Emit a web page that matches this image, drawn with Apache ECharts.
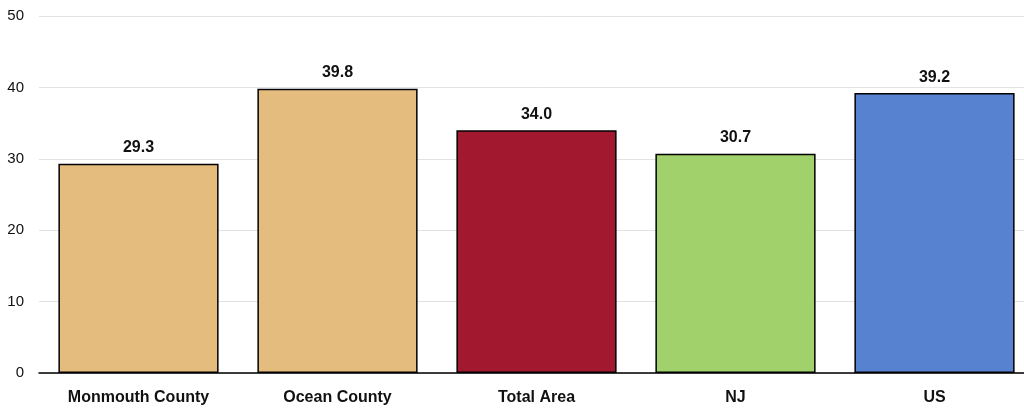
<!DOCTYPE html>
<html><head><meta charset="utf-8">
<script src="https://cdn.jsdelivr.net/npm/echarts@6/dist/echarts.min.js"></script>
<style>html,body{margin:0;padding:0;background:#fff;overflow:hidden;width:1024px;height:410px}#c{width:1034px;height:410px}</style>
</head><body><div id="c"></div>
<script>
const categories = ["Monmouth County", "Ocean County", "Total Area", "NJ", "US"];
const values = [29.3, 39.8, 34.0, 30.7, 39.2];
const barColors = ["#E4BC7E", "#E4BC7E", "#A2192F", "#A0D16A", "#5682D0"];
const yTicks = { min: 0, max: 50, interval: 10 };

const chart = echarts.init(document.getElementById('c'), null, { renderer: 'canvas' });
chart.setOption({
  animation: false,
  grid: { left: 39, right: 0, top: 16, bottom: 37, containLabel: false },
  xAxis: {
    type: 'category', data: categories,
    axisLine: { lineStyle: { color: '#000', width: 1.5 } },
    axisTick: { show: false },
    axisLabel: { color: '#111', fontFamily: 'Liberation Sans, Arial', fontWeight: 'bold', fontSize: 16, margin: 17 }
  },
  yAxis: {
    type: 'value', min: yTicks.min, max: yTicks.max, interval: yTicks.interval,
    axisLine: { show: false }, axisTick: { show: false },
    splitLine: { lineStyle: { color: '#e2e2e2', width: 1 } },
    axisLabel: { color: '#111', fontFamily: 'Liberation Sans, Arial', fontSize: 15, margin: 15 }
  },
  series: [{
    type: 'bar', barWidth: '80.5%',
    data: values.map((v, i) => ({ value: v, itemStyle: { color: barColors[i] } })),
    itemStyle: { borderColor: '#000', borderWidth: 1.5 },
    label: {
      show: true, position: 'top', distance: 8,
      color: '#111', fontFamily: 'Liberation Sans, Arial', fontWeight: 'bold', fontSize: 16,
      formatter: p => p.value.toFixed(1)
    }
  }]
});
</script></body></html>
